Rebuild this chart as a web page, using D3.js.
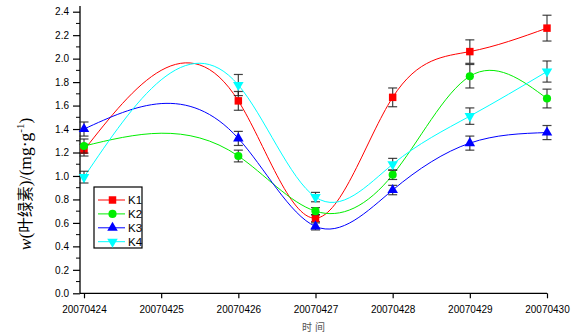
<!DOCTYPE html>
<html>
<head>
<meta charset="utf-8">
<script src="https://cdn.jsdelivr.net/npm/d3@7"></script>
<style>
  body { margin: 0; background: #fff; }
  svg { display: block; }
</style>
</head>
<body>
<div id="chart"></div>
<script>
// dates on the x axis (no measurement on 20070425)
var dates = ["20070424", "20070425", "20070426", "20070427", "20070428", "20070429", "20070430"];
var sampleIdx = [0, 2, 3, 4, 5, 6];

var seriesNames = ["K1", "K2", "K3", "K4"];
var k1 = [1.22, 1.64, 0.64, 1.67, 2.06, 2.26];
var k2 = [1.255, 1.17, 0.70, 1.01, 1.85, 1.66];
var k3 = [1.40, 1.32, 0.57, 0.88, 1.28, 1.37];
var k4 = [0.99, 1.775, 0.82, 1.10, 1.51, 1.89];

// error bar half widths
var k1Err = [0.05, 0.08, 0.03, 0.08, 0.10, 0.11];
var k2Err = [0.06, 0.05, 0.03, 0.04, 0.10, 0.08];
var k3Err = [0.06, 0.06, 0.03, 0.04, 0.06, 0.06];
var k4Err = [0.05, 0.09, 0.04, 0.05, 0.07, 0.09];

var yTicks = [0, 0.2, 0.4, 0.6, 0.8, 1.0, 1.2, 1.4, 1.6, 1.8, 2.0, 2.2, 2.4];

var colors = ["#ff0000", "#00ee00", "#0000ff", "#00ffff"];
var symbols = [d3.symbolSquare, d3.symbolCircle, d3.symbolTriangle, "down"];

var values = [k1, k2, k3, k4];
var errors = [k1Err, k2Err, k3Err, k4Err];

var width = 571, height = 336;

// natural cubic spline as a function of x (like Origin's spline connect)
function SplineX(context) { this._context = context; }
SplineX.prototype = {
  areaStart: function() { this._line = 0; },
  areaEnd: function() { this._line = NaN; },
  lineStart: function() { this._px = []; this._py = []; },
  point: function(px, py) { this._px.push(+px); this._py.push(+py); },
  lineEnd: function() {
    var xs = this._px, ys = this._py, n = xs.length, c = this._context;
    if (!n) return;
    c.moveTo(xs[0], ys[0]);
    if (n < 3) { if (n === 2) c.lineTo(xs[1], ys[1]); return; }
    var h = [], i;
    for (i = 0; i < n - 1; i++) h.push(xs[i + 1] - xs[i]);
    // solve for second derivatives, M[0] = M[n-1] = 0
    var a = [], b = [], cc = [], r = [];
    for (i = 1; i < n - 1; i++) {
      a.push(h[i - 1]); b.push(2 * (h[i - 1] + h[i])); cc.push(h[i]);
      r.push(6 * ((ys[i + 1] - ys[i]) / h[i] - (ys[i] - ys[i - 1]) / h[i - 1]));
    }
    var m = r.length;
    for (i = 1; i < m; i++) {
      var w = a[i] / b[i - 1];
      b[i] -= w * cc[i - 1];
      r[i] -= w * r[i - 1];
    }
    var M = new Array(n).fill(0);
    M[m] = r[m - 1] / b[m - 1];
    for (i = m - 2; i >= 0; i--) M[i + 1] = (r[i] - cc[i] * M[i + 2]) / b[i];
    for (i = 0; i < n - 1; i++) {
      var s = (ys[i + 1] - ys[i]) / h[i];
      var d0 = s - h[i] * (2 * M[i] + M[i + 1]) / 6;
      var d1 = s + h[i] * (M[i] + 2 * M[i + 1]) / 6;
      c.bezierCurveTo(xs[i] + h[i] / 3, ys[i] + d0 * h[i] / 3,
                      xs[i + 1] - h[i] / 3, ys[i + 1] - d1 * h[i] / 3,
                      xs[i + 1], ys[i + 1]);
    }
  }
};
function curveSplineX(context) { return new SplineX(context); }

var svg = d3.select("#chart").append("svg")
    .attr("width", width)
    .attr("height", height)
    .style("font-family", "'Liberation Sans', Arial, sans-serif");

var x = d3.scaleLinear().domain([0, 6]).range([84, 547]);
var y = d3.scaleLinear().domain([0, 2.4]).range([293.3, 11.7]);

// y axis
var yAxis = d3.axisLeft(y).tickValues(yTicks).tickFormat(d3.format(".1f")).tickSize(7).tickSizeOuter(0);
var gy = svg.append("g").attr("transform", "translate(80,0)").call(yAxis);
gy.select(".domain").attr("d", "M0," + y(0) + "V6").attr("stroke-width", 1.3);
gy.selectAll(".tick text").attr("font-size", 10).attr("x", -11).attr("fill", "#000");
gy.selectAll(".tick line").attr("stroke-width", 1.2);
gy.selectAll(".minor").data(d3.range(0.1, 2.4, 0.2)).enter().append("line")
    .attr("x1", 0).attr("x2", -4)
    .attr("y1", function(d) { return y(d); })
    .attr("y2", function(d) { return y(d); })
    .attr("stroke", "#000");

// x axis
var xAxis = d3.axisBottom(x).tickValues(d3.range(dates.length))
    .tickFormat(function(i) { return dates[i]; }).tickSize(5).tickSizeOuter(0);
var gx = svg.append("g").attr("transform", "translate(0," + y(0) + ")").call(xAxis);
gx.select(".domain").attr("d", "M80,0H" + x(6)).attr("stroke-width", 1.3);
gx.selectAll(".tick line").attr("stroke-width", 1.2);
gx.selectAll(".tick text").attr("font-size", 10).attr("y", 13).attr("fill", "#000");

// axis titles
var title = svg.append("text")
    .attr("transform", "translate(31,184) rotate(-90)")
    .attr("text-anchor", "middle")
    .attr("font-size", 17.5)
    .style("font-family", "'Liberation Serif', 'Times New Roman', serif");
title.append("tspan").attr("font-style", "italic").text("w");
title.append("tspan").text("(");
title.append("tspan").style("font-family", "'Noto Sans CJK SC'").attr("font-size", 15.5).text("叶绿素");
title.append("tspan").text(")/(mg·g");
title.append("tspan").attr("font-size", 11).attr("dy", -7).text("-1");
title.append("tspan").attr("dy", 7).text(")");

svg.append("text")
    .attr("x", 315).attr("y", 331)
    .attr("text-anchor", "middle")
    .attr("font-size", 10)
    .attr("fill", "#555")
    .style("font-family", "'Noto Sans CJK SC'")
    .attr("letter-spacing", 3)
    .text("时间");

var line = d3.line()
    .curve(curveSplineX)
    .x(function(d) { return x(d.i); })
    .y(function(d) { return y(d.v); });

function markerPath(s) {
  if (s === "down") {
    return d3.symbol().type(d3.symbolTriangle).size(48)();
  }
  if (s === d3.symbolCircle) return d3.symbol().type(s).size(52)();
  if (s === d3.symbolSquare) return d3.symbol().type(s).size(56)();
  return d3.symbol().type(s).size(48)();
}

values.forEach(function(vals, k) {
  var pts = vals.map(function(v, j) { return {i: sampleIdx[j], v: v, e: errors[k][j]}; });

  svg.append("path")
      .datum(pts)
      .attr("fill", "none")
      .attr("stroke", colors[k])
      .attr("stroke-width", 1)
      .attr("d", line);

  var eb = svg.append("g").attr("stroke", "#222").attr("stroke-opacity", 0.85).attr("stroke-width", 1.2);
  pts.forEach(function(p) {
    var px = x(p.i);
    eb.append("line").attr("x1", px).attr("x2", px).attr("y1", y(p.v + p.e)).attr("y2", y(p.v - p.e));
    eb.append("line").attr("x1", px - 4.5).attr("x2", px + 4.5).attr("y1", y(p.v + p.e)).attr("y2", y(p.v + p.e));
    eb.append("line").attr("x1", px - 4.5).attr("x2", px + 4.5).attr("y1", y(p.v - p.e)).attr("y2", y(p.v - p.e));
  });

  svg.append("g").selectAll("path").data(pts).enter().append("path")
      .attr("d", markerPath(symbols[k]))
      .attr("transform", function(p) {
        return "translate(" + x(p.i) + "," + y(p.v) + ")" + (symbols[k] === "down" ? " rotate(180)" : "");
      })
      .attr("fill", colors[k]);
});

// legend
var legend = svg.append("g").attr("transform", "translate(94,187)");
legend.append("rect").attr("width", 48).attr("height", 61)
    .attr("fill", "#fff").attr("stroke", "#000").attr("stroke-width", 1.2);
seriesNames.forEach(function(n, k) {
  var ly = 13 + k * 13.9;
  legend.append("line").attr("x1", 4).attr("x2", 31).attr("y1", ly).attr("y2", ly)
      .attr("stroke", colors[k]).attr("stroke-width", 1);
  legend.append("path").attr("d", markerPath(symbols[k]))
      .attr("transform", "translate(18.5," + ly + ")" + (symbols[k] === "down" ? " rotate(180)" : ""))
      .attr("fill", colors[k]);
  legend.append("text").attr("x", 34).attr("y", ly + 4).attr("font-size", 11.5).text(n);
});
</script>
</body>
</html>
